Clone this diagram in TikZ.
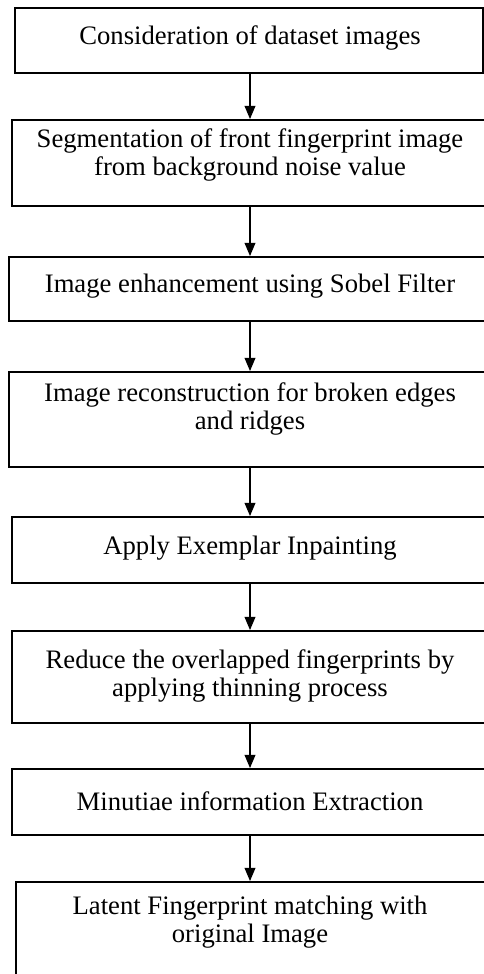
\documentclass[tikz,border=0pt]{standalone}
\usepackage{fontspec}
\setmainfont{Liberation Serif}
\usetikzlibrary{arrows.meta}
\begin{document}
\begin{tikzpicture}[x=0.75pt,y=-0.75pt,
  box/.style={draw=black,line width=1.3pt,rectangle,inner sep=0pt,fill=none},
  txt/.style={inner sep=0pt,align=center,font=\fontsize{20}{21}\selectfont},
  flow/.style={line width=1.4pt,-{Triangle[length=10pt,width=8pt]}}]
\useasboundingbox (0,0) rectangle (484,974);
\node[box,minimum width=351pt,minimum height=48.75pt] (b1) at (249,40.5) {};
\node[box,minimum width=356.25pt,minimum height=64.5pt] (b2) at (249.5,163) {};
\node[box,minimum width=360.75pt,minimum height=48pt] (b3) at (249.5,289) {};
\node[box,minimum width=360.75pt,minimum height=71.25pt] (b4) at (249.5,419.5) {};
\node[box,minimum width=356.25pt,minimum height=49.5pt] (b5) at (249.5,550) {};
\node[box,minimum width=356.25pt,minimum height=69pt] (b6) at (249.5,677) {};
\node[box,minimum width=356.25pt,minimum height=49.5pt] (b7) at (249.5,802) {};
\node[box,minimum width=353.25pt,minimum height=72pt] (b8) at (251.5,930) {};
\node[txt] (t1) at (250,37.5) {Consideration of dataset images};
\node[txt] (t2) at (250,155) {Segmentation of front fingerprint image\\from background noise value};
\node[txt] (t3) at (250,286) {Image enhancement using Sobel Filter};
\node[txt] (t4) at (250,409) {Image reconstruction for broken edges\\and ridges};
\node[txt] (t5) at (250,548.5) {Apply Exemplar Inpainting};
\node[txt] (t6) at (250,676) {Reduce the overlapped fingerprints by\\applying thinning process};
\node[txt] (t7) at (250,801) {Minutiae information Extraction};
\node[txt] (t8) at (250,922) {Latent Fingerprint matching with\\original Image};
\coordinate (a1) at (250,73);
\coordinate (a2) at (250,206);
\coordinate (a3) at (250,321);
\coordinate (a4) at (250,467);
\coordinate (a5) at (250,583);
\coordinate (a6) at (250,723);
\coordinate (a7) at (250,835);
\draw[flow] (a1) -- (a1 |- b2.north);
\draw[flow] (a2) -- (a2 |- b3.north);
\draw[flow] (a3) -- (a3 |- b4.north);
\draw[flow] (a4) -- (a4 |- b5.north);
\draw[flow] (a5) -- (a5 |- b6.north);
\draw[flow] (a6) -- (a6 |- b7.north);
\draw[flow] (a7) -- (a7 |- b8.north);
\end{tikzpicture}
\end{document}
